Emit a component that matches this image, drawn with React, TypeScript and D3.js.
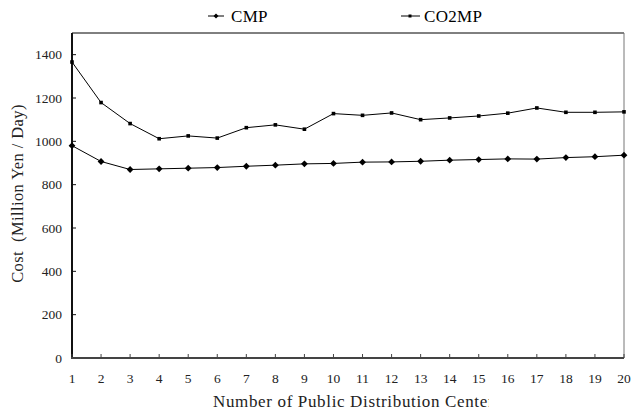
import React from "react";
import * as d3 from "d3";

const categories = [1, 2, 3, 4, 5, 6, 7, 8, 9, 10, 11, 12, 13, 14, 15, 16, 17, 18, 19, 20];
const cmp = [980, 907, 870, 873, 876, 879, 885, 890, 896, 898, 904, 905, 908, 913, 916, 919, 918, 925, 929, 936];
const co2mp = [1366, 1179, 1082, 1012, 1025, 1015, 1063, 1076, 1056, 1128, 1120, 1131, 1100, 1108, 1117, 1130, 1154, 1134, 1134, 1136];
const yTicks = [0, 200, 400, 600, 800, 1000, 1200, 1400];

const W = 632, H = 413;
const L = 72, R = 624, T = 33, B = 358;
const font = "Liberation Serif";

export default function App() {
  const x = d3.scaleLinear().domain([1, 20]).range([L, R]);
  const y = d3.scaleLinear().domain([0, 1500]).range([B, T]);
  const line = d3.line<number>().x((_, i) => x(categories[i])).y((d) => y(d));
  const diamond = (cx: number, cy: number, r: number) =>
    `M${cx},${cy - r}L${cx + r},${cy}L${cx},${cy + r}L${cx - r},${cy}Z`;

  return (
    <svg width={W} height={H} style={{ position: "fixed", left: 0, top: 0, background: "#fff", fontFamily: font }}>
      <defs>
        <clipPath id="xl">
          <rect x={0} y={385} width={489} height={28} />
        </clipPath>
      </defs>
      {/* legend */}
      <g style={{ fontFamily: font }} fontSize={17} fill="#000">
        <line x1={208} x2={224} y1={16} y2={16} stroke="#000" strokeWidth={1} />
        <path d={diamond(216, 16, 2.5)} fill="#000" />
        <text x={231} y={22} letterSpacing={0.3}>CMP</text>
        <line x1={401} x2={420} y1={16} y2={16} stroke="#000" strokeWidth={1} />
        <rect x={408.5} y={14.5} width={3} height={3} fill="#000" />
        <text x={424} y={22} letterSpacing={0.3}>CO2MP</text>
      </g>
      {/* frame */}
      <line x1={L} x2={R} y1={T} y2={T} stroke="#000" strokeWidth={1} />
      <line x1={R} x2={R} y1={T} y2={B} stroke="#777" strokeWidth={1} />
      {/* y axis */}
      <line x1={L} x2={L} y1={T} y2={B + 1} stroke="#111" strokeWidth={2} />
      {yTicks.map((t) => (
        <g key={t}>
          <line x1={L} x2={L + 4} y1={y(t)} y2={y(t)} stroke="#111" strokeWidth={1} />
          <text x={L - 10} y={y(t) + 4.5} textAnchor="end" style={{ fontFamily: font }} fontSize={13.5} fill="#222">
            {t}
          </text>
        </g>
      ))}
      {/* x axis */}
      <line x1={L - 1} x2={R} y1={B} y2={B} stroke="#444" strokeWidth={2} />
      {categories.map((c) => (
        <g key={c}>
          <line x1={x(c)} x2={x(c)} y1={B} y2={B - 4} stroke="#444" strokeWidth={1} />
          <text x={x(c)} y={383} textAnchor="middle" style={{ fontFamily: font }} fontSize={13.5} fill="#222">
            {c}
          </text>
        </g>
      ))}
      {/* series */}
      <path d={line(co2mp) || ""} fill="none" stroke="#000" strokeWidth={1} />
      <path d={line(cmp) || ""} fill="none" stroke="#000" strokeWidth={1} />
      {co2mp.map((v, i) => (
        <rect key={"s" + i} x={x(categories[i]) - 1.8} y={y(v) - 1.8} width={3.6} height={3.6} fill="#000" />
      ))}
      {cmp.map((v, i) => (
        <path key={"d" + i} d={diamond(x(categories[i]), y(v), 3.4)} fill="#000" />
      ))}
      {/* axis titles */}
      <text
        transform={`translate(23,${(100 + 287) / 2}) rotate(-90)`}
        textAnchor="middle"
        style={{ fontFamily: font, whiteSpace: "pre" }}
        fontSize={16.5}
        letterSpacing={0.4}
        fill="#222"
      >
        {"Cost\u00a0 (Million Yen / Day)"}
      </text>
      <text x={213} y={407} style={{ fontFamily: font }} fontSize={17} letterSpacing={0.65} fill="#222" clipPath="url(#xl)">
        Number of Public Distribution Center
      </text>
    </svg>
  );
}
